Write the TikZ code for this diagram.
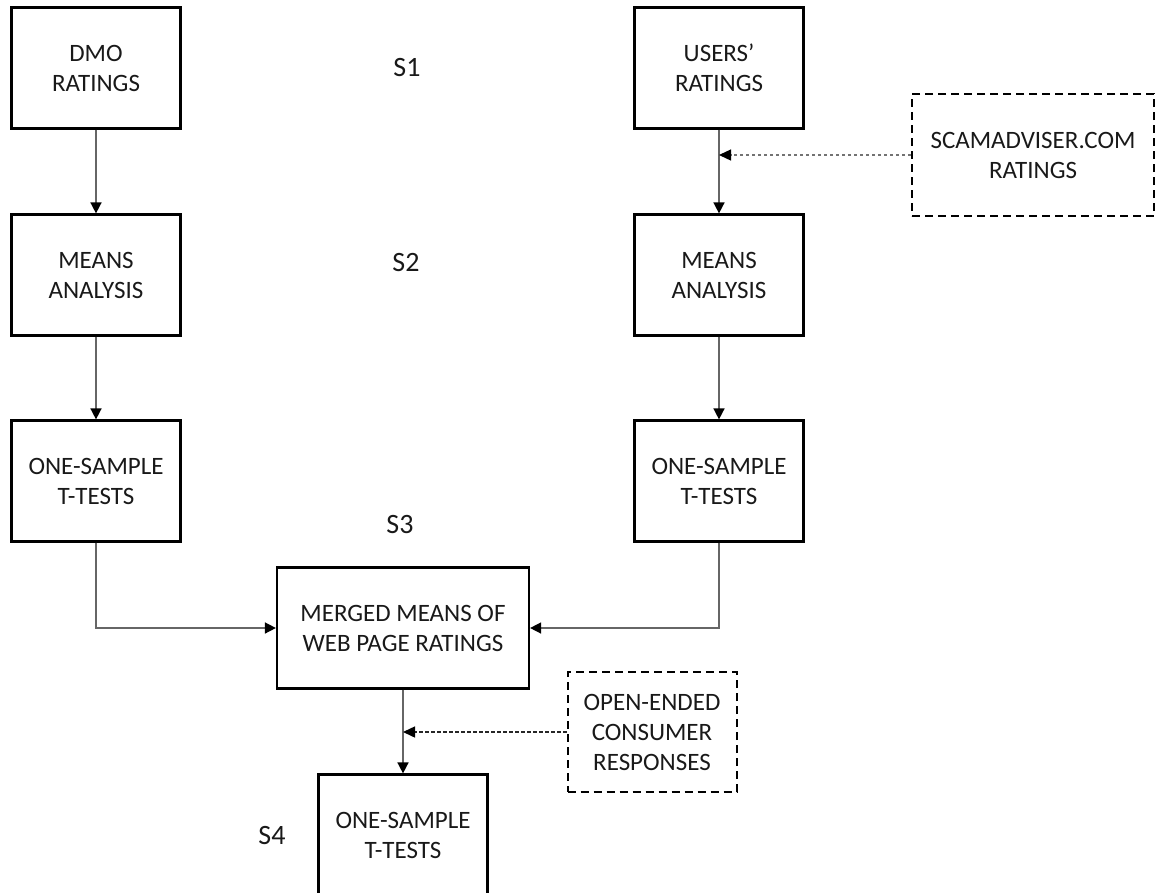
\documentclass[tikz,border=0pt]{standalone}
\usepackage{fontspec}
\setmainfont{Carlito}
\usetikzlibrary{arrows.meta}

\tikzset{
  stagebox/.style={draw=black, line width=2.2pt, inner sep=0pt,
    minimum width=169pt, minimum height=121pt, align=center,
    font=\fontsize{25}{30}\selectfont, text=black!90},
  sourcebox/.style={draw=black, line width=2pt, dash pattern=on 8pt off 5pt,
    inner sep=0pt, align=center, font=\fontsize{25}{30}\selectfont, text=black!90},
  steplabel/.style={font=\fontsize{28}{32}\selectfont, text=black!90, inner sep=0pt},
  flow/.style={draw=black!60, line width=1.5pt,
    -{Triangle[width=11pt,length=11pt,color=black]}},
  feed/.style={line width=1.5pt, dash pattern=on 3.5pt off 2.5pt,
    -{Triangle[width=11pt,length=12pt,color=black]}},
}

\begin{document}
\begin{tikzpicture}[x=1pt, y=-1pt]
  \useasboundingbox (0,0) rectangle (1157,892);

  % left column: DMO ratings
  \node[stagebox] (dmo)    at (96,68)  {DMO\\RATINGS};
  \node[stagebox] (meanL)  at (96,275) {MEANS\\ANALYSIS};
  \node[stagebox] (testL)  at (96,481) {ONE-SAMPLE\\T-TESTS};

  % right column: users' ratings
  \node[stagebox] (users)  at (719,68)  {USERS’\\RATINGS};
  \node[stagebox] (meanR)  at (719,275) {MEANS\\ANALYSIS};
  \node[stagebox] (testR)  at (719,481) {ONE-SAMPLE\\T-TESTS};

  % merged stage and final tests
  \node[stagebox, minimum width=252pt] (merged) at (403,628) {MERGED MEANS OF\\WEB PAGE RATINGS};
  \node[stagebox] (final) at (403,835) {ONE-SAMPLE\\T-TESTS};

  % supplementary sources
  \node[sourcebox, minimum width=242pt, minimum height=122pt] (scam) at (1033,155) {SCAMADVISER.COM\\RATINGS};
  \node[sourcebox, minimum width=169pt, minimum height=120pt] (open) at (652,732) {OPEN-ENDED\\CONSUMER\\RESPONSES};

  % stage labels
  \node[steplabel] (s1) at (407,68)  {S1};
  \node[steplabel] (s2) at (406,263) {S2};
  \node[steplabel] (s3) at (400,525) {S3};
  \node[steplabel] (s4) at (272,835) {S4};

  % main flow
  \draw[flow] (dmo) -- (meanL);
  \draw[flow] (meanL) -- (testL);
  \draw[flow] (users) -- (meanR);
  \draw[flow] (meanR) -- (testR);
  \draw[flow] (testL.south) |- (merged.west);
  \draw[flow] (testR.south) |- (merged.east);
  \draw[flow] (merged) -- (final);

  % feeds from the supplementary sources
  \coordinate (joinR) at (users.south |- scam.west);
  \coordinate (joinM) at (merged.south |- open.west);
  \draw[feed, draw=black!55, line width=1.3pt] (scam.west) -- (joinR);
  \draw[feed, draw=black!85] (open.west) -- (joinM);
\end{tikzpicture}
\end{document}
